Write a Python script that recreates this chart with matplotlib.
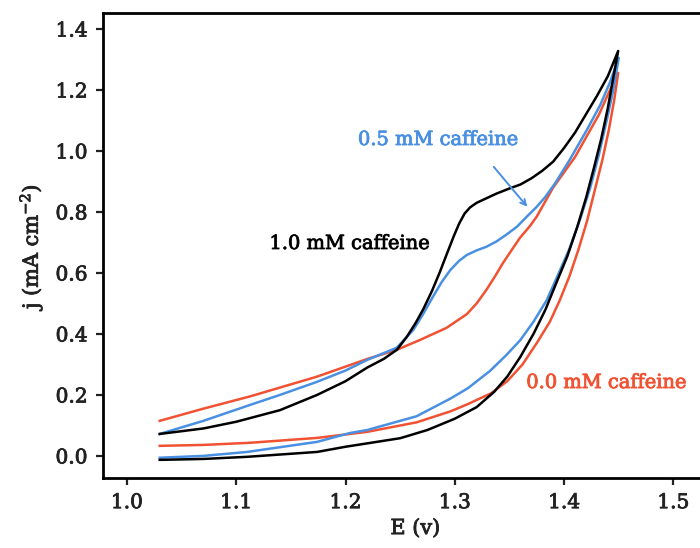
import matplotlib
matplotlib.use("Agg")
import matplotlib.pyplot as plt
import matplotlib.patheffects as pe

plt.rcParams['font.family'] = ['DejaVu Serif']
plt.rcParams['mathtext.fontset'] = 'dejavuserif'

# 1.0 mM caffeine (black): forward sweep then reverse sweep
e_10 = [1.03, 1.07, 1.10, 1.14, 1.174, 1.20, 1.22, 1.235, 1.247, 1.256, 1.264, 1.271, 1.279,
        1.286, 1.293, 1.299, 1.304, 1.309, 1.314, 1.320, 1.329, 1.338, 1.35, 1.36, 1.37,
        1.38, 1.39, 1.40, 1.41, 1.42, 1.43, 1.44, 1.4495,
        1.445, 1.44, 1.434, 1.427, 1.42, 1.412, 1.403, 1.394, 1.383, 1.372, 1.36, 1.348,
        1.336, 1.32, 1.30, 1.275, 1.25, 1.20, 1.174, 1.11, 1.07, 1.03]
j_10 = [0.072, 0.09, 0.112, 0.15, 0.20, 0.245, 0.29, 0.318, 0.348, 0.39, 0.435, 0.48, 0.54,
        0.60, 0.665, 0.72, 0.762, 0.795, 0.815, 0.83, 0.845, 0.86, 0.877, 0.89, 0.91,
        0.935, 0.965, 1.01, 1.06, 1.12, 1.18, 1.245, 1.328,
        1.24, 1.14, 1.04, 0.94, 0.845, 0.75, 0.655, 0.577, 0.48, 0.40, 0.325, 0.26,
        0.21, 0.16, 0.122, 0.085, 0.058, 0.03, 0.013, -0.003, -0.01, -0.013]

# 0.5 mM caffeine (blue)
e_05 = [1.03, 1.07, 1.1125, 1.14, 1.174, 1.20, 1.22, 1.247, 1.262, 1.271, 1.280, 1.288,
        1.296, 1.304, 1.311, 1.320, 1.329, 1.338, 1.347, 1.357, 1.366, 1.375, 1.383, 1.392,
        1.405, 1.421, 1.433, 1.442, 1.45,
        1.445, 1.439, 1.432, 1.424, 1.415, 1.405, 1.394, 1.384, 1.372, 1.36, 1.347, 1.332,
        1.312, 1.296, 1.265, 1.22, 1.204, 1.174, 1.11, 1.07, 1.03]
j_05 = [0.072, 0.115, 0.167, 0.20, 0.243, 0.28, 0.315, 0.355, 0.413, 0.465, 0.522, 0.57,
        0.61, 0.64, 0.659, 0.674, 0.686, 0.703, 0.725, 0.752, 0.785, 0.817, 0.85, 0.895,
        0.97, 1.07, 1.15, 1.225, 1.305,
        1.2, 1.1, 0.99, 0.88, 0.78, 0.68, 0.59, 0.51, 0.44, 0.38, 0.33, 0.278,
        0.222, 0.188, 0.13, 0.085, 0.075, 0.046, 0.013, 0.0, -0.006]

# 0.0 mM caffeine (red)
e_00 = [1.03, 1.07, 1.1125, 1.174, 1.22, 1.247, 1.268, 1.2925, 1.311, 1.320, 1.329, 1.337,
        1.344, 1.352, 1.3596, 1.369, 1.375, 1.39, 1.399, 1.41, 1.421, 1.432, 1.442, 1.4495,
        1.446, 1.441, 1.435, 1.428, 1.421, 1.413, 1.405, 1.396, 1.387, 1.375, 1.362, 1.348,
        1.333, 1.312, 1.296, 1.265, 1.22, 1.174, 1.1125, 1.07, 1.03]
j_00 = [0.115, 0.155, 0.195, 0.26, 0.318, 0.348, 0.38, 0.42, 0.465, 0.5, 0.545, 0.59,
        0.632, 0.675, 0.715, 0.755, 0.785, 0.88, 0.925, 0.98, 1.05, 1.12, 1.2, 1.256,
        1.17, 1.07, 0.97, 0.87, 0.77, 0.675, 0.59, 0.51, 0.44, 0.37, 0.30, 0.245,
        0.205, 0.17, 0.146, 0.11, 0.079, 0.059, 0.043, 0.036, 0.033]

x_ticks = [1.0, 1.1, 1.2, 1.3, 1.4, 1.5]
y_ticks = [0.0, 0.2, 0.4, 0.6, 0.8, 1.0, 1.2, 1.4]

c_black = '#000000'
c_blue = '#4a90e2'
c_red = '#f05232'

fig = plt.figure(figsize=(7.0, 5.48), dpi=100)
ax = fig.add_axes([0.147, 0.128, 0.893, 0.848])

lw = 1.8
ax.plot(e_00, j_00, color=c_red, lw=lw, solid_joinstyle='round')
ax.plot(e_05, j_05, color=c_blue, lw=lw, solid_joinstyle='round')
ax.plot(e_10, j_10, color=c_black, lw=lw, solid_joinstyle='round')

ax.set_xlim(0.978, 1.55)
ax.set_ylim(-0.072, 1.452)
ax.set_xticks(x_ticks)
ax.set_yticks(y_ticks)
ax.set_xticklabels([f"{v:.1f}" for v in x_ticks])
ax.set_yticklabels([f"{v:.1f}" for v in y_ticks])

for s in ax.spines.values():
    s.set_linewidth(2.0)
ax.tick_params(direction='out', length=5, width=1.6, labelsize=14.5, pad=6,
               colors='#222222')

def thick(color):
    return [pe.withStroke(linewidth=0.6, foreground=color)]

for lab in ax.get_xticklabels() + ax.get_yticklabels():
    lab.set_path_effects(thick('#222222'))

xl = ax.set_xlabel('E (v)', fontsize=15, labelpad=5, color='#222222')
yl = ax.set_ylabel(r'j (mA cm$^{\mathregular{-2}}$)', fontsize=15, labelpad=8,
                   color='#222222')
xl.set_path_effects(thick('#222222'))
yl.set_path_effects(thick('#222222'))

t1 = ax.text(1.285, 1.036, '0.5 mM caffeine', color=c_blue, fontsize=14,
             ha='center', va='center')
t1.set_path_effects(thick(c_blue))
ax.annotate('', xy=(1.368, 0.81), xytext=(1.334, 0.955),
            arrowprops=dict(arrowstyle='->', color=c_blue, lw=1.4))
t2 = ax.text(1.204, 0.695, '1.0 mM caffeine', color=c_black, fontsize=14,
             ha='center', va='center')
t2.set_path_effects(thick('#111111'))
t3 = ax.text(1.439, 0.239, '0.0 mM caffeine', color=c_red, fontsize=14,
             ha='center', va='center')
t3.set_path_effects(thick(c_red))

fig.savefig('out.png', dpi=100)
